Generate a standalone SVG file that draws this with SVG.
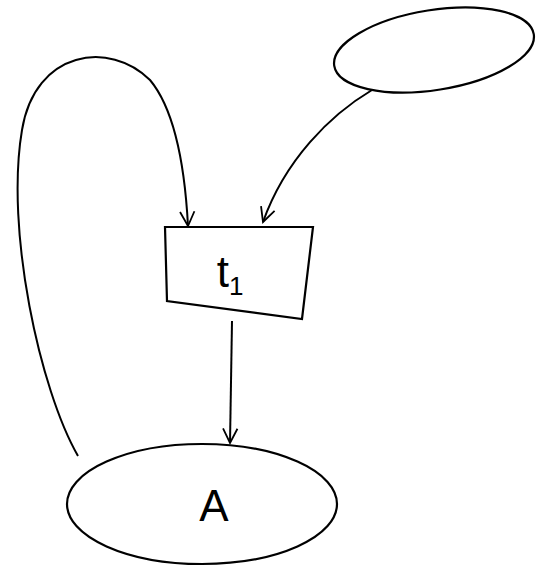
<svg xmlns="http://www.w3.org/2000/svg" width="537" height="569" viewBox="0 0 537 569">
<defs>
<marker id="arr" viewBox="0 0 20 20" refX="18" refY="10" markerWidth="18" markerHeight="18" markerUnits="userSpaceOnUse" orient="auto">
<path d="M2,2 L18,10 L2,18" fill="none" stroke="#000" stroke-width="2"/>
</marker>
</defs>
<style>
.sh{fill:#fff;stroke:#000;stroke-width:2.2}
.ln{fill:none;stroke:#000;stroke-width:2;marker-end:url(#arr)}
.tx{font-family:"Liberation Sans",Arial,sans-serif;font-size:44px;fill:#000;text-anchor:middle}
</style>
<rect width="537" height="569" fill="#fff"/>
<g id="connectors">
<path class="ln" d="M78,456 C40,390 5,230 22,130 C35,50 110,40 150,80 C175,110 185,170 188,226"/>
<path class="ln" d="M372,90 C330,115 285,160 263,222"/>
<path class="ln" d="M232,321 L230,443"/>
</g>
<g id="n_top">
<ellipse class="sh" cx="434" cy="50" rx="101" ry="40" transform="rotate(-9 434 50)"/>
</g>
<g id="n_t1">
<path class="sh" d="M165,227 L313,227 L302,319 L167,301 Z"/>
<text class="tx" x="230" y="287">t<tspan font-size="26" dy="8">1</tspan></text>
</g>
<g id="n_A">
<ellipse class="sh" cx="202" cy="504" rx="135" ry="60"/>
<text class="tx" x="214" y="521">A</text>
</g>
</svg>
